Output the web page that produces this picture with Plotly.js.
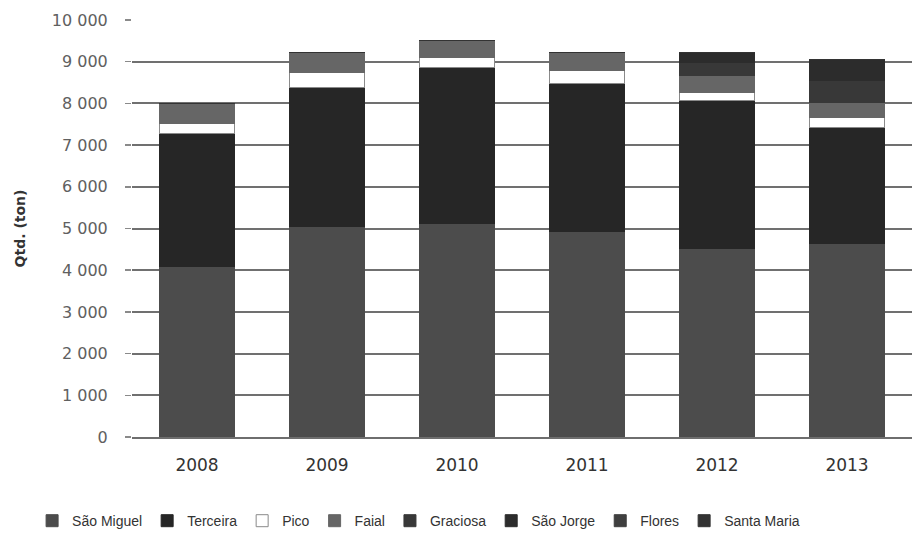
<!DOCTYPE html>
<html><head><meta charset="utf-8">
<script src="https://cdn.plot.ly/plotly-3.0.1.min.js"></script>
<style>html,body{margin:0;padding:0;background:#fff}#chart{width:917px;height:540px}</style>
</head><body><div id="chart"></div>
<script>
const years = ['2008','2009','2010','2011','2012','2013'];
const saoMiguel = [4080, 5040, 5110, 4940, 4510, 4630];
const terceira  = [3210, 3350, 3760, 3530, 3570, 2800];
const pico      = [240, 340, 240, 310, 170, 240];
const faial     = [470, 500, 410, 430, 430, 360];
const graciosa  = [0, 0, 0, 0, 300, 530];
const saoJorge  = [0, 0, 0, 0, 230, 500];
const flores    = [0, 0, 0, 0, 0, 0];
const santaMaria= [0, 0, 0, 0, 0, 0];
const seriesNames = ['São Miguel','Terceira','Pico','Faial','Graciosa','São Jorge','Flores','Santa Maria'];
const seriesData = [saoMiguel, terceira, pico, faial, graciosa, saoJorge, flores, santaMaria];
const colors = ['#4c4c4c','#262626','#ffffff','#666666','#383838','#2c2c2c','#3f3f3f','#333333'];
const lineColors = ['#4c4c4c','#262626','#8a8a8a','#666666','#383838','#2c2c2c','#3f3f3f','#333333'];

const traces = seriesNames.map((n,i)=>({
  type:'bar', name:n, x:years, y:seriesData[i],
  marker:{color:colors[i], line:{color:lineColors[i], width:1}},
  hoverinfo:'name+y'
}));

const layout = {
  width:917, height:540,
  margin:{l:132, r:5, t:20, b:103},
  barmode:'stack', bargap:0.42,
  separators:'. ',
  paper_bgcolor:'#fff', plot_bgcolor:'#fff',
  font:{family:'"DejaVu Sans", sans-serif', color:'#595959', size:14},
  xaxis:{showgrid:false, showline:true, linecolor:'#6e6e6e', linewidth:2, ticks:'',
         ticklabelstandoff:12, tickfont:{size:17,color:'#333333'}},
  yaxis:{range:[0,10000], dtick:1000, tickformat:',d', showgrid:true, gridcolor:'#707070', gridwidth:2,
         zeroline:false, ticks:'outside', ticklen:6, tickwidth:1.5, tickcolor:'#8a8a8a',
         ticklabelstandoff:14, tickfont:{size:16,color:'#606060'},
         title:{text:'<b>Qtd. (ton)</b>', font:{size:14,color:'#333333'}, standoff:22}},
  legend:{orientation:'h', xref:'container', yref:'container', x:0.035, y:0.035, xanchor:'left', yanchor:'middle',
          traceorder:'normal', itemwidth:30, font:{family:'"Liberation Sans", sans-serif', size:14,color:'#333333'}},
  showlegend:true
};
Plotly.newPlot('chart', traces, layout, {displayModeBar:false, staticPlot:true});
</script></body></html>
